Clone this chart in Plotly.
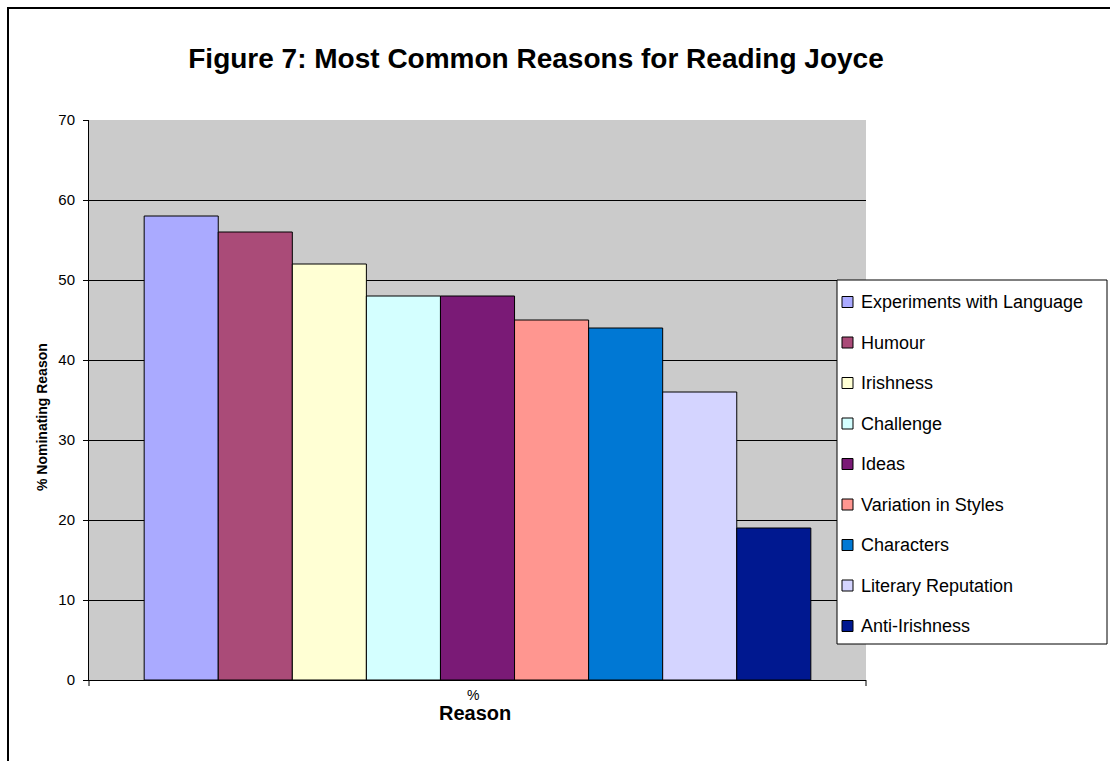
import plotly.graph_objects as go

reasons = [
    "Experiments with Language", "Humour", "Irishness", "Challenge", "Ideas",
    "Variation in Styles", "Characters", "Literary Reputation", "Anti-Irishness",
]
percent = [58, 56, 52, 48, 48, 45, 44, 36, 19]
colors = [
    "#AAAAFF", "#AA4B78", "#FFFFD4", "#D4FFFF", "#7A1A76",
    "#FF9690", "#0078D4", "#D4D4FF", "#001890",
]
y_ticks = [0, 10, 20, 30, 40, 50, 60, 70]

FONT = "Liberation Sans, Arial, sans-serif"

fig = go.Figure()
for name, val, col in zip(reasons, percent, colors):
    fig.add_trace(go.Bar(
        x=["Reason"], y=[val], name=name, showlegend=False,
        marker=dict(color=col, line=dict(color="#000000", width=1)),
    ))

W, H = 1110, 761
L, R, T, B = 89, 866, 120, 680
pw, ph = R - L, B - T


def px(x):
    return (x - L) / pw


def py(y):
    return (B - y) / ph


fig.update_layout(
    width=W, height=H,
    margin=dict(l=L, r=W - R, t=T, b=H - B),
    paper_bgcolor="white",
    plot_bgcolor="#CBCBCB",
    barmode="group", bargap=0.142, bargroupgap=0,
    font=dict(family=FONT, color="#000000"),
    title=dict(
        text="<b>Figure 7: Most Common Reasons for Reading Joyce</b>",
        x=px(536), xref="paper", xanchor="center",
        y=1 - 58 / H, yanchor="middle",
        font=dict(size=28, family=FONT),
    ),
    xaxis=dict(
        showticklabels=False, showgrid=False,
        showline=True, linecolor="#000000", linewidth=1,
        ticks="", zeroline=False,
    ),
    yaxis=dict(
        range=[0, 70], tickvals=y_ticks,
        showgrid=True, gridcolor="#000000", gridwidth=1,
        showline=True, linecolor="#000000", linewidth=1,
        ticks="outside", ticklen=5, tickcolor="#000000",
        tickfont=dict(size=15, family=FONT),
        ticklabelstandoff=5,
        zeroline=False,
    ),
)

# axis titles and the small percent sign above the category title
fig.add_annotation(
    text="<b>% Nominating Reason</b>", xref="paper", yref="paper",
    x=px(42), y=py(417), xanchor="center", yanchor="middle", textangle=-90,
    showarrow=False, font=dict(size=14, family=FONT),
)
fig.add_annotation(
    text="<b>Reason</b>", xref="paper", yref="paper",
    x=px(475), y=py(713), xanchor="center", yanchor="middle",
    showarrow=False, font=dict(size=20, family=FONT),
)
fig.add_annotation(
    text="%", xref="paper", yref="paper",
    x=px(473), y=py(695), xanchor="center", yanchor="middle",
    showarrow=False, font=dict(size=14, family=FONT),
)

# tick marks at both ends of the category axis
for xe in (0, 1):
    fig.add_shape(type="line", xref="paper", yref="paper",
                  x0=xe, x1=xe, y0=0, y1=py(686), line=dict(color="#000000", width=1))

# legend box with one swatch per reason
LEG_L, LEG_R, LEG_T, LEG_B = 837, 1107, 280, 644
fig.add_shape(type="rect", xref="paper", yref="paper",
              x0=px(LEG_L), x1=px(LEG_R), y0=py(LEG_T), y1=py(LEG_B),
              line=dict(color="#000000", width=1), fillcolor="white", layer="above")
row0, step = 302, 40.5
for i, (name, col) in enumerate(zip(reasons, colors)):
    cy = row0 + i * step
    fig.add_shape(type="rect", xref="paper", yref="paper",
                  x0=px(842), x1=px(853), y0=py(cy - 5.5), y1=py(cy + 5.5),
                  line=dict(color="#000000", width=1), fillcolor=col, layer="above")
    fig.add_annotation(
        text=name, xref="paper", yref="paper",
        x=px(859), y=py(cy), xanchor="left", yanchor="middle",
        showarrow=False, font=dict(size=18, family=FONT),
    )

# chart frame
fig.add_shape(type="rect", xref="paper", yref="paper",
              x0=px(8), x1=px(1200), y0=py(8), y1=py(900),
              line=dict(color="#000000", width=2), layer="above")

fig.write_html("out.html")
